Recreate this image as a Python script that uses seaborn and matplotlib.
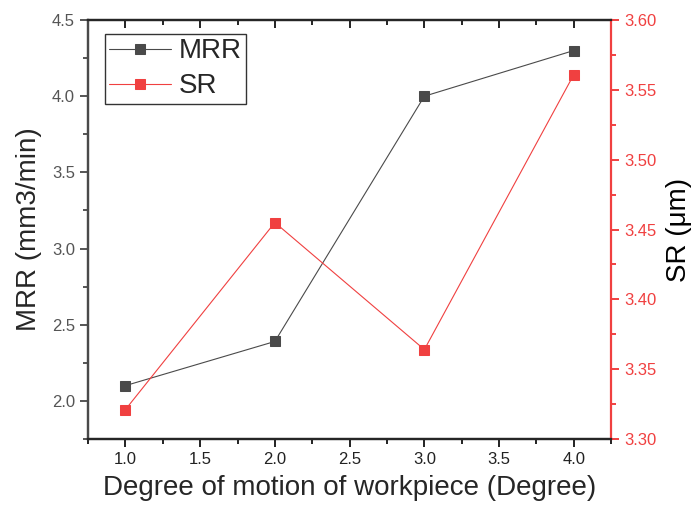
import matplotlib
matplotlib.use("Agg")
import matplotlib.pyplot as plt
from matplotlib.ticker import MultipleLocator, FormatStrFormatter
import matplotlib.lines as mlines
import seaborn as sns
import pandas as pd

sns.set_style("white")
plt.rcParams['font.family'] = ['Liberation Sans', 'DejaVu Sans']

degree = [1.0, 2.0, 3.0, 4.0]
mrr = [2.10, 2.39, 4.00, 4.30]
sr = [3.321, 3.455, 3.364, 3.561]

df = pd.DataFrame({"degree": degree, "MRR": mrr, "SR": sr})

gray = "#4a4a4a"
red = "#f04040"

fig = plt.figure(figsize=(6.93, 5.14), dpi=100)
ax = fig.add_axes([0.127, 0.146, 0.755, 0.815])
ax2 = ax.twinx()

sns.lineplot(data=df, x="degree", y="MRR", ax=ax, color=gray, marker="s",
             markersize=7.5, markeredgecolor=gray, linewidth=0.8, label="MRR", legend=False)
sns.lineplot(data=df, x="degree", y="SR", ax=ax2, color=red, marker="s",
             markersize=7.5, markeredgecolor=red, linewidth=0.8, label="SR", legend=False)

ax.set_xlim(0.75, 4.25)
ax.set_ylim(1.75, 4.5)
ax2.set_ylim(3.30, 3.60)

ax.xaxis.set_major_locator(MultipleLocator(0.5))
ax.xaxis.set_minor_locator(MultipleLocator(0.25))
ax.yaxis.set_major_locator(MultipleLocator(0.5))
ax.yaxis.set_minor_locator(MultipleLocator(0.25))
ax2.yaxis.set_major_locator(MultipleLocator(0.05))
ax2.yaxis.set_minor_locator(MultipleLocator(0.025))
ax.xaxis.set_major_formatter(FormatStrFormatter('%.1f'))
ax.yaxis.set_major_formatter(FormatStrFormatter('%.1f'))
ax2.yaxis.set_major_formatter(FormatStrFormatter('%.2f'))

ax.set_xlabel("Degree of motion of workpiece (Degree)", fontsize=20, labelpad=6)
ax.set_ylabel("MRR (mm3/min)", fontsize=20, labelpad=7)
ax2.set_ylabel("SR (μm)", fontsize=20, labelpad=7)

for s in ["top", "bottom", "left", "right"]:
    ax.spines[s].set_linewidth(1.6)
    ax2.spines[s].set_linewidth(1.6)
ax.spines["left"].set_color(gray)
ax2.spines["left"].set_color(gray)
ax2.spines["right"].set_color(red)
ax.spines["right"].set_visible(False)

ax.tick_params(axis="x", which="both", direction="out", bottom=True, top=True,
               labelsize=12, colors="#222222", width=1.4)
ax.tick_params(axis="x", which="major", length=6)
ax.tick_params(axis="x", which="minor", length=3.5)
for t in ax.xaxis.get_major_ticks() + ax.xaxis.get_minor_ticks():
    t.tick2line.set_marker(mlines.TICKDOWN)
ax.tick_params(axis="y", which="both", direction="out", left=True, labelsize=12,
               colors="#555555", width=1.4)
ax.tick_params(axis="y", which="major", length=6)
ax.tick_params(axis="y", which="minor", length=3.5)
ax2.tick_params(axis="y", which="both", direction="out", right=True, labelsize=12,
                colors=red, width=1.4)
ax2.tick_params(axis="y", which="major", length=6)
ax2.tick_params(axis="y", which="minor", length=3.5)
ax2.yaxis.label.set_color("black")

h1, l1 = ax.get_legend_handles_labels()
h2, l2 = ax2.get_legend_handles_labels()
leg = ax2.legend(h1 + h2, l1 + l2, loc="upper left", bbox_to_anchor=(0.0325, 0.9666),
                 fontsize=20, frameon=True, fancybox=False, edgecolor="black",
                 handlelength=2.2, borderpad=0.16, labelspacing=0.32, handletextpad=0.3,
                 borderaxespad=0)
leg.get_frame().set_linewidth(1.0)

fig.savefig("out.png", dpi=100)
